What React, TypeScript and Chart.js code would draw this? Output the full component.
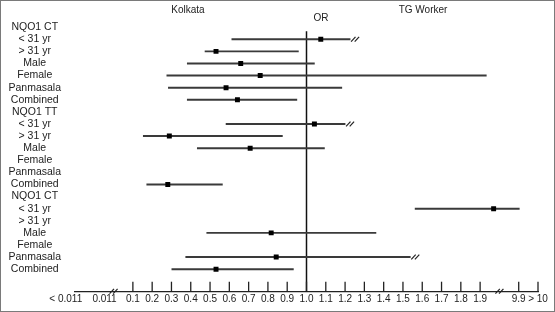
import React, { useEffect, useRef } from 'react';
import { Chart, registerables } from 'chart.js';

Chart.register(...registerables);

// ---- data ----
const rowLabels = [
  'NQO1 CT', '< 31 yr', '> 31 yr', 'Male', 'Female', 'Panmasala', 'Combined',
  'NQO1 TT', '< 31 yr', '> 31 yr', 'Male', 'Female', 'Panmasala', 'Combined',
  'NQO1 CT', '< 31 yr', '> 31 yr', 'Male', 'Female', 'Panmasala', 'Combined',
];

// values expressed on the (broken) display axis
const oddsRatio: (number | null)[] = [
  null, 1.074, 0.531, 0.659, 0.760, 0.583, 0.642,
  null, 1.041, 0.289, 0.708, null, null, 0.281,
  null, 1.970, null, 0.817, null, 0.843, 0.531,
];
const ciLower: (number | null)[] = [
  null, 0.613, 0.474, 0.382, 0.276, 0.284, 0.382,
  null, 0.583, 0.154, 0.434, null, null, 0.172,
  null, 1.563, null, 0.483, null, 0.374, 0.302,
];
const ciUpper: (number | null)[] = [
  null, 1.226, 0.958, 1.041, 1.932, 1.183, 0.950,
  null, 1.200, 0.875, 1.093, null, null, 0.564,
  null, 2.103, null, 1.360, null, 1.538, 0.932,
];
const upperTruncated: boolean[] = [
  false, true, false, false, false, false, false,
  false, true, false, false, false, false, false,
  false, false, false, false, false, true, false,
];

const tickValues = [
  -0.248, -0.047, 0.1, 0.2, 0.3, 0.4, 0.5, 0.6, 0.7, 0.8, 0.9, 1.0,
  1.1, 1.2, 1.3, 1.4, 1.5, 1.6, 1.7, 1.8, 1.9, 2.1, 2.2,
];
const tickLabels = [
  '< 0.011', '0.011', '0.1', '0.2', '0.3', '0.4', '0.5', '0.6', '0.7', '0.8', '0.9', '1.0',
  '1.1', '1.2', '1.3', '1.4', '1.5', '1.6', '1.7', '1.8', '1.9', '9.9', '> 10',
];
const axisBreaks = [0.0, 2.0];
const referenceOR = 1.0;

const FONT = '"Liberation Sans", Arial, Helvetica, sans-serif';
const INK = '#222';

const Y_MIN = -0.567;
const Y_MAX = 21.863;

const decorations = {
  id: 'decorations',
  afterDatasetsDraw(chart: any) {
    const { ctx, chartArea, scales } = chart;
    const x = scales.x;
    const y = scales.y;
    ctx.save();
    ctx.strokeStyle = INK;
    ctx.lineWidth = 1.3;
    // upward tick marks
    tickValues.forEach((v) => {
      if (v <= 0) return;
      const px = x.getPixelForValue(v);
      ctx.beginPath();
      ctx.moveTo(px, chartArea.bottom);
      ctx.lineTo(px, chartArea.bottom - 10);
      ctx.stroke();
    });
    const slash = (cx: number, cy: number) => {
      ctx.lineWidth = 1.2;
      [-1.8, 1.8].forEach((d) => {
        ctx.beginPath();
        ctx.moveTo(cx + d - 2.2, cy + 2.4);
        ctx.lineTo(cx + d + 2.2, cy - 2.4);
        ctx.stroke();
      });
    };
    axisBreaks.forEach((v) => slash(x.getPixelForValue(v), chartArea.bottom - 0.5));
    ciUpper.forEach((u, i) => {
      if (u != null && upperTruncated[i]) slash(x.getPixelForValue(u) + 5, y.getPixelForValue(i));
    });
    ctx.fillStyle = INK;
    ctx.font = `10px ${FONT}`;
    ctx.textAlign = 'center';
    ctx.textBaseline = 'middle';
    ctx.fillText('Kolkata', 188, 10);
    ctx.fillText('TG Worker', 423, 10);
    ctx.fillText('OR', x.getPixelForValue(referenceOR) + 14.5, 18);
    ctx.restore();
  },
};

export default function App() {
  const ref = useRef<HTMLCanvasElement | null>(null);

  useEffect(() => {
    document.body.style.margin = '0';
    const canvas = ref.current;
    if (!canvas) return;

    const points = oddsRatio
      .map((v, i) => (v == null ? null : { x: v, y: i }))
      .filter((p) => p !== null);
    const intervals = ciLower
      .map((lo, i) => (lo == null || ciUpper[i] == null ? null : { x: [lo, ciUpper[i]], y: i }))
      .filter((p) => p !== null);

    const chart = new Chart(canvas, {
      type: 'scatter',
      data: {
        datasets: [
          {
            type: 'scatter',
            data: points as any,
            pointStyle: 'rect',
            pointRadius: 3.5,
            pointBackgroundColor: '#000',
            pointBorderWidth: 0,
          } as any,
          {
            type: 'bar',
            indexAxis: 'y',
            data: intervals as any,
            barThickness: 1.3,
            backgroundColor: '#3a3a3a',
            borderWidth: 0,
          } as any,
          {
            type: 'line',
            data: [
              { x: referenceOR, y: 0.34 },
              { x: referenceOR, y: Y_MAX },
            ],
            borderColor: '#111',
            borderWidth: 1.5,
            pointRadius: 0,
            fill: false,
          } as any,
        ],
      },
      options: {
        animation: false,
        responsive: false,
        devicePixelRatio: 1,
        layout: { padding: { top: 5, right: 17, bottom: 0, left: 0 } },
        plugins: {
          legend: { display: false },
          tooltip: { enabled: false },
        },
        scales: {
          x: {
            type: 'linear',
            min: -0.2,
            max: 2.2,
            offset: false,
            grid: { display: false, drawTicks: false },
            border: { display: true, color: INK, width: 1.3 },
            afterBuildTicks: (scale: any) => {
              scale.ticks = tickValues.map((v) => ({ value: v }));
            },
            afterFit: (scale: any) => {
              scale.height = 18;
            },
            ticks: {
              autoSkip: false,
              maxRotation: 0,
              minRotation: 0,
              padding: 2,
              color: INK,
              font: { family: FONT, size: 10 },
              callback: (_v: any, index: number) => tickLabels[index],
            },
          },
          y: {
            type: 'linear',
            reverse: true,
            min: Y_MIN,
            max: Y_MAX,
            offset: false,
            grid: { display: false, drawTicks: false },
            border: { display: false },
            afterBuildTicks: (scale: any) => {
              scale.ticks = rowLabels.map((_, i) => ({ value: i }));
            },
            afterFit: (scale: any) => {
              scale.width = 75;
            },
            ticks: {
              autoSkip: false,
              crossAlign: 'center',
              padding: 14,
              color: INK,
              font: { family: FONT, size: 10.5 },
              callback: (v: any) => rowLabels[v as number],
            },
          },
        },
      } as any,
      plugins: [decorations],
    });

    return () => chart.destroy();
  }, []);

  return (
    <div style={{ position: 'relative', width: 555, height: 312, background: '#fff' }}>
      <canvas ref={ref} width={555} height={312} style={{ display: 'block', width: 555, height: 312 }} />
      <div
        style={{
          position: 'absolute',
          inset: 0,
          border: '1px solid #7a7a7a',
          boxSizing: 'border-box',
          pointerEvents: 'none',
        }}
      />
    </div>
  );
}
